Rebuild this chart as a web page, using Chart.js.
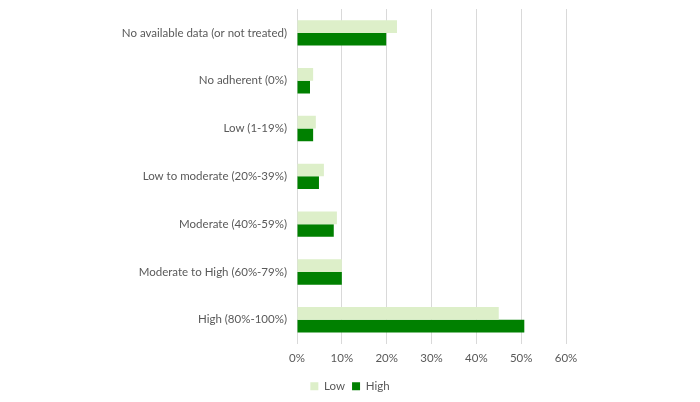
<!DOCTYPE html>
<html>
<head>
<meta charset="utf-8">
<script src="https://cdn.jsdelivr.net/npm/chart.js@4"></script>
<style>
  html, body { margin: 0; padding: 0; background: #fff; }
  #wrap { width: 700px; height: 402px; }
</style>
</head>
<body>
<div id="wrap"><canvas id="chart"></canvas></div>
<script>
const categories = [
  "No available data (or not treated)",
  "No adherent (0%)",
  "Low (1-19%)",
  "Low to moderate (20%-39%)",
  "Moderate (40%-59%)",
  "Moderate to High (60%-79%)",
  "High (80%-100%)"
];
const lowValues = [22.3, 3.6, 4.2, 6.0, 8.9, 10.0, 45.0];
const highValues = [19.9, 2.9, 3.6, 4.9, 8.2, 10.0, 50.7];

const textColor = "#595959";
const gridColor = "#d9d9d9";
const font = { family: "Lato, 'Open Sans', sans-serif", size: 11.5 };

const ctx = document.getElementById("chart").getContext("2d");
new Chart(ctx, {
  type: "bar",
  data: {
    labels: categories,
    datasets: [
      {
        label: "Low",
        data: lowValues,
        backgroundColor: "#ddefc9",
        categoryPercentage: 0.53,
        barPercentage: 1.0
      },
      {
        label: "High",
        data: highValues,
        backgroundColor: "#008000",
        categoryPercentage: 0.53,
        barPercentage: 1.0
      }
    ]
  },
  options: {
    indexAxis: "y",
    responsive: true,
    maintainAspectRatio: false,
    animation: false,
    layout: { padding: { top: 9, bottom: 0, left: 0, right: 0 } },
    scales: {
      x: {
        min: 0,
        max: 60,
        ticks: {
          stepSize: 10,
          color: textColor,
          font: font,
          padding: 8,
          callback: (v) => v + "%"
        },
        grid: { color: gridColor, drawTicks: false },
        border: { display: false }
      },
      y: {
        ticks: { color: textColor, font: font, padding: 2 },
        grid: { display: false, drawTicks: true, tickLength: 8 },
        border: { display: false },
        afterFit: (scale) => { scale.width = 297; }
      },
      yRight: {
        type: "category",
        position: "right",
        display: true,
        ticks: { display: false, padding: 0 },
        grid: { display: false },
        border: { display: false },
        afterFit: (scale) => { scale.width = 134; }
      }
    },
    plugins: {
      legend: {
        position: "bottom",
        labels: {
          color: textColor,
          font: font,
          boxWidth: 8,
          boxHeight: 8,
          padding: 7
        }
      },
      tooltip: { enabled: false }
    }
  }
});
</script>
</body>
</html>
